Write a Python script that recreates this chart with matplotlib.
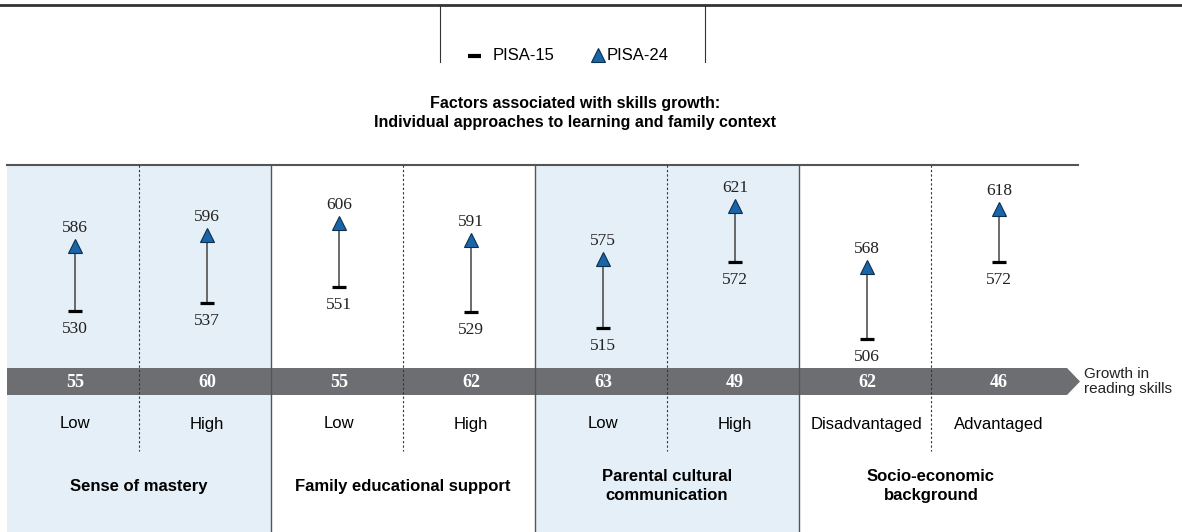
import numpy as np
import matplotlib.pyplot as plt
from matplotlib.patches import Rectangle, Polygon

plt.rcParams['font.family'] = ['Liberation Sans', 'DejaVu Sans']

# data
subgroups = ['Low', 'High', 'Low', 'High', 'Low', 'High', 'Disadvantaged', 'Advantaged']
groups = ['Sense of mastery', 'Family educational support',
          'Parental cultural\ncommunication', 'Socio-economic\nbackground']
pisa15 = [530, 537, 551, 529, 515, 572, 506, 572]
pisa24 = [586, 596, 606, 591, 575, 621, 568, 618]
growth = [55, 60, 55, 62, 63, 49, 62, 46]

W, H = 1182, 532
fig = plt.figure(figsize=(W / 100, H / 100), dpi=100)

# background axes in pixel units for the frame / decorations
bg = fig.add_axes([0, 0, 1, 1])
bg.set_xlim(0, W)
bg.set_ylim(H, 0)
bg.axis('off')

x0, colw = 7, 132
top, band_top, band_bot = 165, 368, 395
shade = '#e4eff7'
dark = '#333333'

# top rule and legend box
bg.plot([0, W], [5, 5], color=dark, lw=2)
bg.plot([440, 440], [5, 62], color=dark, lw=0.8)
bg.plot([705, 705], [5, 62], color=dark, lw=0.8)
bg.plot([468, 481], [56, 56], color='black', lw=3, solid_capstyle='butt')
bg.text(493, 56, 'PISA-15', fontsize=12, va='center', ha='left')
bg.plot([598], [55], marker='^', ms=10.5, color='#1a64a8', mec='#0b2f4f', mew=0.8)
bg.text(607, 56, 'PISA-24', fontsize=12, va='center', ha='left')

# title
bg.text(575, 113, 'Factors associated with skills growth:\nIndividual approaches to learning and family context',
        fontsize=11.5, fontweight='bold', ha='center', va='center', linespacing=1.3)

# shaded groups
for g in range(len(groups)):
    gx = x0 + g * 2 * colw
    if g % 2 == 0:
        bg.add_patch(Rectangle((gx, top), 2 * colw, H - top, color=shade, lw=0, zorder=0))
    if g > 0:
        bg.plot([gx, gx], [top, H], color='#555555', lw=1, zorder=3)
    bg.text(gx + colw, 486, groups[g], fontsize=12, fontweight='bold', ha='center', va='center',
            linespacing=1.35)

bg.plot([x0, 1078], [top, top], color='#555555', lw=1.5, zorder=3)

# growth band with arrow
band_end = x0 + 8 * colw + 4
bg.add_patch(Polygon([(x0, band_top), (band_end, band_top), (band_end + 13, (band_top + band_bot) / 2),
                      (band_end, band_bot), (x0, band_bot)], closed=True, color='#6d6e71', lw=0, zorder=2))
bg.text(band_end + 17, (band_top + band_bot) / 2, 'Growth in\nreading skills', fontsize=11,
        ha='left', va='center', linespacing=1.0, color='#222222')

for i in range(len(subgroups)):
    cx = x0 + colw * (i + 0.5)
    if i % 2 == 1:
        bg.plot([x0 + colw * i] * 2, [top, 451], color=dark, lw=0.8, ls=(0, (2, 2)), zorder=3)
    bg.text(cx + 2, (band_top + band_bot) / 2 + 1, str(growth[i]), color='white', fontsize=13,
            fontweight='bold', family='Liberation Serif', ha='center', va='center', zorder=4)
    bg.text(cx + 2, 424, subgroups[i], fontsize=12, ha='center', va='center')

# data axes: x = category index, y = score
y_lo, y_hi = 480, 640
px_per = 1.158
ytop = 286.7 - (y_hi - 551) * px_per
ybot = 286.7 - (y_lo - 551) * px_per
ax = fig.add_axes([(x0 + 2) / W, 1 - ybot / H, 8 * colw / W, (ybot - ytop) / H])
ax.set_xlim(-0.5, 7.5)
ax.set_ylim(y_lo, y_hi)
ax.axis('off')
ax.patch.set_alpha(0)

xs = np.arange(len(subgroups))
ax.vlines(xs, pisa15, pisa24, color='#444444', lw=1.1, zorder=2)
ax.plot(xs, pisa15, ls='none', marker='_', ms=10, mew=2.3, color='black', zorder=3)
ax.plot(xs, pisa24, ls='none', marker='^', ms=10.5, color='#1a64a8', mec='#0b2f4f', mew=0.8, zorder=4)
for x, a, b in zip(xs, pisa15, pisa24):
    ax.annotate(str(a), (x, a), xytext=(0, -13), textcoords='offset points', ha='center', va='center',
                fontsize=12.5, family='Liberation Serif', color='#222222')
    ax.annotate(str(b), (x, b), xytext=(0, 13), textcoords='offset points', ha='center', va='center',
                fontsize=12.5, family='Liberation Serif', color='#222222')

fig.savefig('out.png', dpi=100)
